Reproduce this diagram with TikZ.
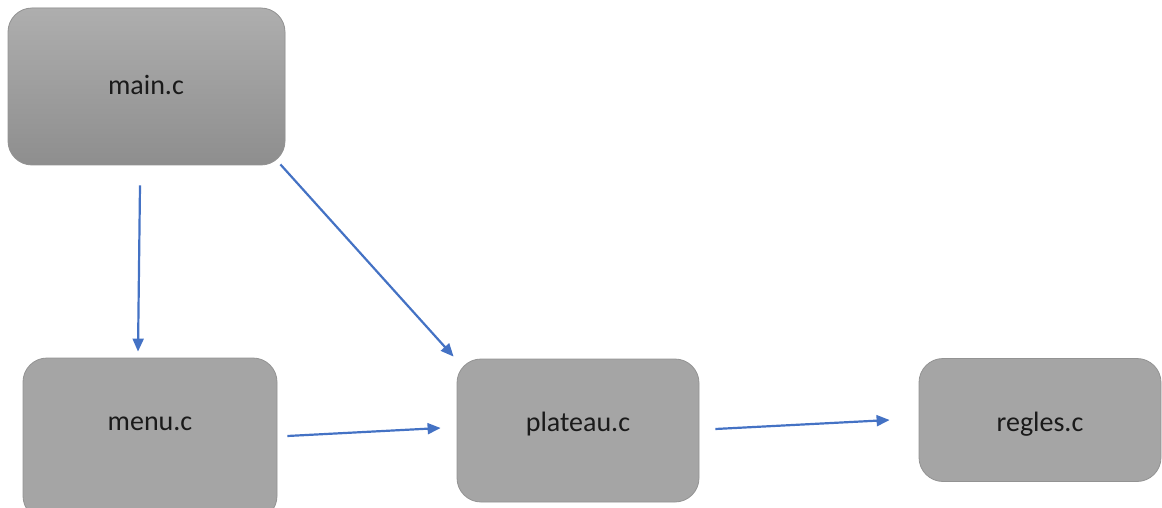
\documentclass[tikz,border=0pt]{standalone}
\usepackage{fontspec}
\setmainfont{Carlito}
\usetikzlibrary{arrows.meta,calc}
\definecolor{boxfill}{HTML}{A5A5A5}
\definecolor{boxline}{HTML}{939393}
\definecolor{gradtop}{HTML}{AEAEAE}
\definecolor{gradbot}{HTML}{8E8E8E}
\definecolor{arrowblue}{HTML}{4472C4}
\definecolor{txt}{HTML}{1A1A1A}
\tikzset{
  filebox/.style={rectangle, rounded corners=24pt, draw=boxline, line width=0.8pt, fill=boxfill, inner sep=0pt},
  label/.style={text=txt, font=\fontsize{28}{34}\selectfont, inner sep=0pt},
  link/.style={draw=arrowblue, line width=2.2pt, -{Triangle[length=13pt,width=11pt]}}
}
\begin{document}
\begin{tikzpicture}[x=1pt,y=-1pt]
\useasboundingbox (0,0) rectangle (1162,508);
\begin{scope}
\clip (0,0) rectangle (1162,508);
\node[filebox, top color=gradtop, bottom color=gradbot, minimum width=277pt, minimum height=157pt] (main) at (146.5,86.5) {};
\node[filebox, minimum width=254pt, minimum height=162pt] (menu) at (150,439) {};
\node[filebox, minimum width=242pt, minimum height=143pt] (plateau) at (578,430.5) {};
\node[filebox, minimum width=242pt, minimum height=123pt] (regles) at (1040,420) {};
\end{scope}
\node[label] (tmain) at (146,85) {main.c};
\node[label] (tmenu) at (150,424) {menu.c};
\node[label] (tplateau) at (578,424) {plateau.c};
\node[label] (tregles) at (1040,424) {regles.c};
\draw[link] ($(main.south)+(-6.5,20)$) -- ($(menu.north)+(-12,-6)$);
\draw[link] ($(main.south east)+(-5,-1)$) -- ($(plateau.north west)+(-3,-2)$);
\draw[link] ($(menu.east)+(10,-3)$) -- ($(plateau.west)+(-16,-2.5)$);
\draw[link] ($(plateau.east)+(16,-1.5)$) -- ($(regles.west)+(-29,0)$);
\end{tikzpicture}
\end{document}
